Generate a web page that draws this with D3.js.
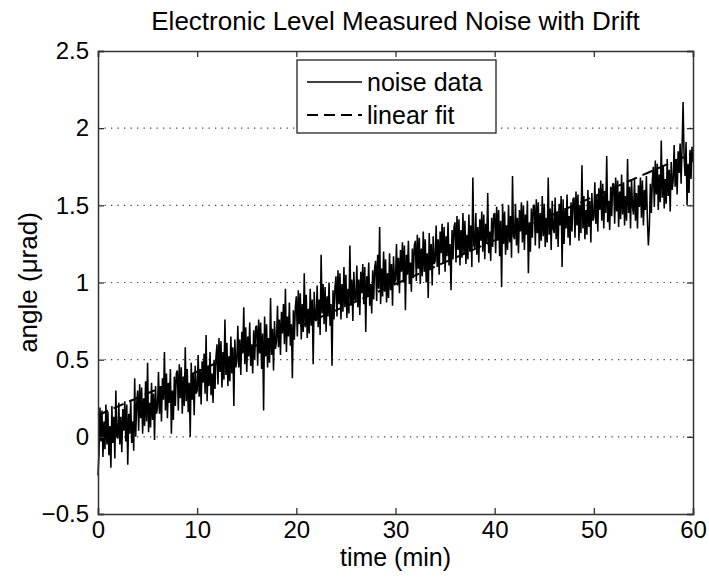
<!DOCTYPE html>
<html>
<head>
<meta charset="utf-8">
<script src="https://cdn.jsdelivr.net/npm/d3@7/dist/d3.min.js"></script>
<style>
  body { margin: 0; background: #fff; }
  svg text { font-family: "Liberation Sans", Arial, Helvetica, sans-serif; fill: #000; }
</style>
</head>
<body>
<svg id="chartSVG" width="709" height="580"></svg>
<script>
// time axis: one sample every 0.1 min from 0 to 60
const timeStart = 0;
const timeStep = 0.1;

// measured angle (urad), 2 minutes per row
const noiseData = [
  -0.25, -0.11, 0.19, -0.03, 0.17, -0.13, 0.10, -0.08, 0.21, -0.05, 0.16, -0.12, 0.07, -0.20, 0.20, -0.04, 0.13, -0.14, 0.30, 0.00,
  -0.01, 0.22, -0.05, 0.13, -0.10, 0.18, 0.04, 0.23, -0.03, 0.21, -0.18, 0.15, 0.02, 0.24, -0.04, 0.10, -0.09, 0.38, 0.00, 0.21,
  0.30, 0.04, 0.34, 0.12, 0.32, 0.02, 0.25, 0.07, 0.36, 0.10, 0.48, 0.03, 0.22, 0.06, 0.35, 0.11, 0.28, -0.02, 0.33, 0.15,
  0.19, 0.42, 0.15, 0.33, 0.10, 0.38, 0.24, 0.55, 0.17, 0.41, 0.12, 0.35, 0.22, 0.44, 0.02, 0.30, 0.11, 0.39, 0.20, 0.41,
  0.43, 0.17, 0.47, 0.25, 0.45, 0.15, 0.38, 0.20, 0.58, 0.23, 0.44, 0.16, 0.35, 0.00, 0.48, 0.24, 0.41, 0.14, 0.46, 0.28,
  0.30, 0.53, 0.26, 0.44, 0.21, 0.49, 0.35, 0.54, 0.28, 0.66, 0.23, 0.46, 0.33, 0.55, 0.27, 0.41, 0.22, 0.50, 0.31, 0.52,
  0.60, 0.34, 0.64, 0.42, 0.62, 0.32, 0.55, 0.37, 0.76, 0.40, 0.61, 0.33, 0.52, 0.36, 0.65, 0.41, 0.58, 0.20, 0.63, 0.45,
  0.49, 0.72, 0.45, 0.63, 0.40, 0.68, 0.54, 0.84, 0.47, 0.71, 0.42, 0.65, 0.52, 0.74, 0.46, 0.60, 0.41, 0.69, 0.50, 0.71,
  0.72, 0.46, 0.76, 0.54, 0.74, 0.44, 0.67, 0.17, 0.78, 0.52, 0.73, 0.45, 0.64, 0.48, 0.90, 0.53, 0.70, 0.43, 0.75, 0.57,
  0.62, 0.85, 0.58, 0.76, 0.53, 0.81, 0.67, 0.86, 0.60, 0.96, 0.55, 0.78, 0.65, 0.87, 0.59, 0.73, 0.38, 0.82, 0.63, 0.84,
  0.91, 0.65, 0.95, 0.73, 0.93, 0.63, 0.86, 0.68, 1.06, 0.71, 0.92, 0.64, 0.83, 0.67, 0.96, 0.72, 0.89, 0.47, 0.94, 0.76,
  0.75, 0.98, 0.71, 0.89, 0.66, 1.18, 0.80, 0.99, 0.73, 0.97, 0.68, 0.91, 0.78, 1.00, 0.72, 0.86, 0.46, 0.95, 0.76, 0.97,
  1.04, 0.78, 1.08, 0.86, 1.06, 0.76, 0.99, 0.81, 1.10, 0.84, 1.05, 0.77, 0.96, 0.80, 1.24, 0.85, 1.02, 0.75, 1.07, 0.89,
  0.88, 1.11, 0.84, 1.02, 0.79, 1.07, 0.93, 1.12, 0.86, 1.10, 0.68, 1.04, 0.91, 1.13, 0.85, 0.99, 0.80, 1.08, 0.89, 1.10,
  1.14, 0.88, 1.18, 0.96, 1.36, 0.86, 1.09, 0.91, 1.20, 0.94, 1.15, 0.87, 1.06, 0.90, 1.19, 0.95, 1.12, 0.85, 1.17, 0.99,
  1.02, 1.25, 0.98, 1.16, 0.93, 1.21, 1.07, 1.26, 1.00, 1.24, 0.82, 1.18, 1.05, 1.27, 0.99, 1.13, 0.94, 1.22, 1.03, 1.24,
  1.27, 1.01, 1.31, 1.09, 1.29, 0.99, 1.22, 1.04, 1.33, 1.07, 1.28, 1.00, 1.19, 0.90, 1.32, 1.08, 1.25, 0.98, 1.30, 1.12,
  1.14, 1.37, 1.10, 1.28, 1.05, 1.33, 1.19, 1.38, 1.12, 1.36, 1.07, 1.30, 1.17, 1.39, 1.11, 1.25, 0.95, 1.34, 1.15, 1.36,
  1.39, 1.13, 1.43, 1.21, 1.41, 1.11, 1.34, 1.16, 1.45, 1.19, 1.40, 1.12, 1.31, 1.15, 1.44, 1.20, 1.37, 1.10, 1.68, 1.24,
  1.22, 1.45, 1.18, 1.36, 1.13, 1.41, 1.27, 1.46, 1.20, 1.44, 1.15, 1.38, 1.25, 1.58, 1.19, 1.33, 1.14, 1.42, 1.23, 1.44,
  1.45, 1.19, 1.49, 1.27, 1.47, 1.17, 1.40, 0.97, 1.51, 1.25, 1.46, 1.18, 1.37, 1.21, 1.50, 1.26, 1.43, 1.16, 1.69, 1.30,
  1.28, 1.51, 1.24, 1.42, 1.19, 1.47, 1.33, 1.52, 1.26, 1.50, 1.21, 1.44, 1.31, 1.53, 1.06, 1.39, 1.20, 1.48, 1.29, 1.50,
  1.50, 1.24, 1.54, 1.32, 1.52, 1.22, 1.45, 1.27, 1.56, 1.30, 1.51, 1.23, 1.42, 1.26, 1.68, 1.31, 1.48, 1.21, 1.53, 1.35,
  1.32, 1.55, 1.28, 1.46, 1.23, 1.51, 1.37, 1.56, 1.10, 1.54, 1.25, 1.48, 1.35, 1.57, 1.29, 1.43, 1.24, 1.52, 1.33, 1.54,
  1.55, 1.29, 1.59, 1.37, 1.57, 1.27, 1.50, 1.32, 1.76, 1.35, 1.56, 1.28, 1.47, 1.31, 1.60, 1.36, 1.53, 1.26, 1.58, 1.40,
  1.42, 1.65, 1.38, 1.56, 1.33, 1.61, 1.47, 1.66, 1.40, 1.64, 1.35, 1.58, 1.45, 1.82, 1.39, 1.53, 1.34, 1.62, 1.43, 1.64,
  1.64, 1.38, 1.68, 1.46, 1.66, 1.36, 1.59, 1.41, 1.70, 1.44, 1.65, 1.37, 1.56, 1.40, 1.80, 1.45, 1.62, 1.35, 1.67, 1.49,
  1.44, 1.67, 1.40, 1.58, 1.35, 1.63, 1.49, 1.68, 1.42, 1.66, 1.37, 1.60, 1.47, 1.69, 1.41, 1.24, 1.36, 1.64, 1.45, 1.66,
  1.75, 1.49, 1.79, 1.57, 1.77, 1.47, 1.70, 1.52, 1.92, 1.55, 1.76, 1.48, 1.67, 1.51, 1.80, 1.56, 1.73, 1.46, 1.78, 1.60,
  1.66, 1.89, 1.62, 1.80, 1.57, 1.85, 1.71, 1.90, 1.64, 1.88, 2.17, 1.82, 1.69, 1.91, 1.50, 1.77, 1.58, 1.86, 1.67, 1.88,
  1.78
];

// linear fit end points
const fitTime = [0, 60];
const fitAngle = [0.14, 1.84];

// axis ticks
const xTicks = [0, 10, 20, 30, 40, 50, 60];
const yTicks = [-0.5, 0, 0.5, 1, 1.5, 2, 2.5];
const gridTicks = [0, 0.5, 1, 1.5, 2];

const legendLabels = ["noise data", "linear fit"];

// 1. select the svg and set up the plot box
let svg = d3.select("#chartSVG");
let plotLeft = 98, plotRight = 693, plotTop = 51, plotBottom = 514;

// 2. scales
let xScale = d3.scaleLinear().domain([0, 60]).range([plotLeft, plotRight]);
let yScale = d3.scaleLinear().domain([-0.5, 2.5]).range([plotBottom, plotTop]);

// 3. dotted grid
svg.append("g")
    .selectAll("line")
    .data(gridTicks)
    .enter()
    .append("line")
    .attr("x1", plotLeft)
    .attr("x2", plotRight)
    .attr("y1", d => yScale(d))
    .attr("y2", d => yScale(d))
    .style("stroke", "#444")
    .style("stroke-width", 1.2)
    .style("stroke-dasharray", "1.3,5.2");

// 4. the data
let noiseLine = d3.line()
    .x((d, i) => xScale(timeStart + i * timeStep))
    .y(d => yScale(d));

svg.append("path")
    .datum(noiseData)
    .attr("d", noiseLine)
    .style("fill", "none")
    .style("stroke", "#000")
    .style("stroke-width", 1.55)
    .style("stroke-linejoin", "bevel");

let fitLine = d3.line()
    .x((d, i) => xScale(fitTime[i]))
    .y(d => yScale(d));

svg.append("path")
    .datum(fitAngle)
    .attr("d", fitLine)
    .style("fill", "none")
    .style("stroke", "#000")
    .style("stroke-width", 2)
    .style("stroke-dasharray", "11,6");

// 5. axes (box with inward ticks on every side)
let fmt = d3.format("");
let xBottom = d3.axisBottom(xScale).tickValues(xTicks).tickSize(-6).tickPadding(7).tickFormat(fmt);
let xTop = d3.axisTop(xScale).tickValues(xTicks).tickSize(-6).tickFormat("");
let yLeft = d3.axisLeft(yScale).tickValues(yTicks).tickSize(-6).tickPadding(9).tickFormat(fmt);
let yRight = d3.axisRight(yScale).tickValues(yTicks).tickSize(-6).tickFormat("");

svg.append("g").attr("class", "axis").attr("transform", "translate(0," + plotBottom + ")").call(xBottom);
svg.append("g").attr("class", "axis").attr("transform", "translate(0," + plotTop + ")").call(xTop);
svg.append("g").attr("class", "axis").attr("transform", "translate(" + plotLeft + ",0)").call(yLeft);
svg.append("g").attr("class", "axis").attr("transform", "translate(" + plotRight + ",0)").call(yRight);

svg.selectAll(".axis path").style("stroke", "#333").style("stroke-width", 1.5);
svg.selectAll(".axis line").style("stroke", "#333").style("stroke-width", 1.3);
svg.selectAll(".axis text")
    .style("font-size", "24px")
    .style("font-family", "Liberation Sans, Arial, sans-serif")
    .style("fill", "#000");

// 6. legend
let legend = svg.append("g");
legend.append("rect")
    .attr("x", 297)
    .attr("y", 60)
    .attr("width", 199)
    .attr("height", 73)
    .style("fill", "#fff")
    .style("stroke", "#222")
    .style("stroke-width", 1.3);

legend.selectAll(".key")
    .data(legendLabels)
    .enter()
    .append("line")
    .attr("x1", 307)
    .attr("x2", 362)
    .attr("y1", (d, i) => 82 + i * 33)
    .attr("y2", (d, i) => 82 + i * 33)
    .style("stroke", "#000")
    .style("stroke-width", (d, i) => i == 0 ? 1.3 : 2.2)
    .style("stroke-dasharray", (d, i) => i == 0 ? null : "11,6");

legend.selectAll(".label")
    .data(legendLabels)
    .enter()
    .append("text")
    .text(d => d)
    .attr("x", 367)
    .attr("y", (d, i) => 82 + i * 33)
    .attr("dy", "0.35em")
    .style("font-size", "25px");

// 7. title and axis labels
svg.append("text")
    .text("Electronic Level Measured Noise with Drift")
    .attr("x", (plotLeft + plotRight) / 2)
    .attr("y", 30)
    .attr("text-anchor", "middle")
    .style("font-size", "26px");

svg.append("text")
    .text("time (min)")
    .attr("x", (plotLeft + plotRight) / 2)
    .attr("y", 566)
    .attr("text-anchor", "middle")
    .style("font-size", "25px");

svg.append("text")
    .text("angle (\u03bcrad)")
    .attr("transform", "translate(37," + (plotTop + plotBottom) / 2 + ") rotate(-90)")
    .attr("text-anchor", "middle")
    .style("font-size", "26px");
</script>
</body>
</html>
